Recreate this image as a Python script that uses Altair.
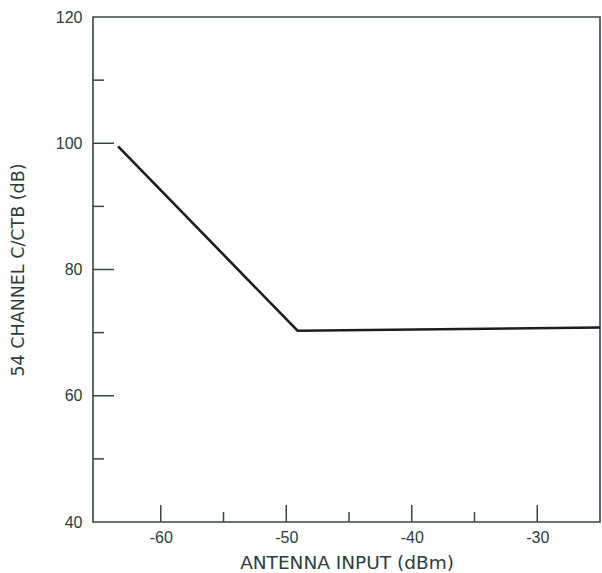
import altair as alt
import pandas as pd

# curve
x_vals = [-63.4, -49.1, -25.0]
y_vals = [99.5, 70.3, 70.8]

# axis ticks
x_major = [-60, -50, -40, -30]
x_minor = [-55, -45, -35]
y_major = [60, 80, 100]
y_minor = [50, 70, 90, 110]
y_labels = [40, 60, 80, 100, 120]

AXC = "#34463f"
TXT = "#2c4038"
FONT = "Liberation Sans"
TFONT = "DejaVu Sans"

xs = alt.Scale(domain=[-65.4, -25], nice=False, zero=False)
ys = alt.Scale(domain=[40, 120], nice=False, zero=False)

line_df = pd.DataFrame({"x": x_vals, "y": y_vals})

line = alt.Chart(line_df).mark_line(color="#1e1e1e", strokeWidth=2.6).encode(
    x=alt.X("x:Q", scale=xs, axis=alt.Axis(
        values=x_major, ticks=False, domain=False, grid=False,
        labelExpr="'' + datum.value",
        title="ANTENNA  INPUT  (dBm)", labelFontSize=16, labelPadding=7,
        labelColor=TXT, labelFont=FONT, titleFont=TFONT, titleFontSize=18.5,
        titleFontWeight="normal", titleColor=TXT, titlePadding=8)),
    y=alt.Y("y:Q", scale=ys, axis=alt.Axis(
        values=y_labels, ticks=False, domain=False, grid=False,
        labelExpr="'' + datum.value",
        title="54 CHANNEL C/CTB (dB)", labelFontSize=16, labelPadding=11,
        labelColor=TXT, labelFont=FONT, titleFont=TFONT, titleFontSize=17.5,
        titleFontWeight="normal", titleColor=TXT, titlePadding=28)),
)

def yticks(vals, length):
    return alt.Chart(pd.DataFrame({"v": vals})).mark_rule(color=AXC, strokeWidth=1.5).encode(
        y=alt.Y("v:Q", scale=ys), x=alt.value(0), x2=alt.value(length))

def xticks(vals, length):
    return alt.Chart(pd.DataFrame({"v": vals})).mark_rule(color=AXC, strokeWidth=1.5).encode(
        x=alt.X("v:Q", scale=xs), y=alt.value(505), y2=alt.value(505 - length))

chart = alt.layer(
    yticks(y_major, 21), yticks(y_minor, 11),
    xticks(x_major, 17), xticks(x_minor, 10),
    line,
).properties(
    width=507, height=505,
    autosize=alt.AutoSizeParams(type="none"),
    padding={"left": 93, "top": 17, "right": 2, "bottom": 51},
    background="white",
).configure_view(stroke=AXC, strokeWidth=1.6)

chart.save("out.html", embed_options={"renderer": "svg", "actions": False})
